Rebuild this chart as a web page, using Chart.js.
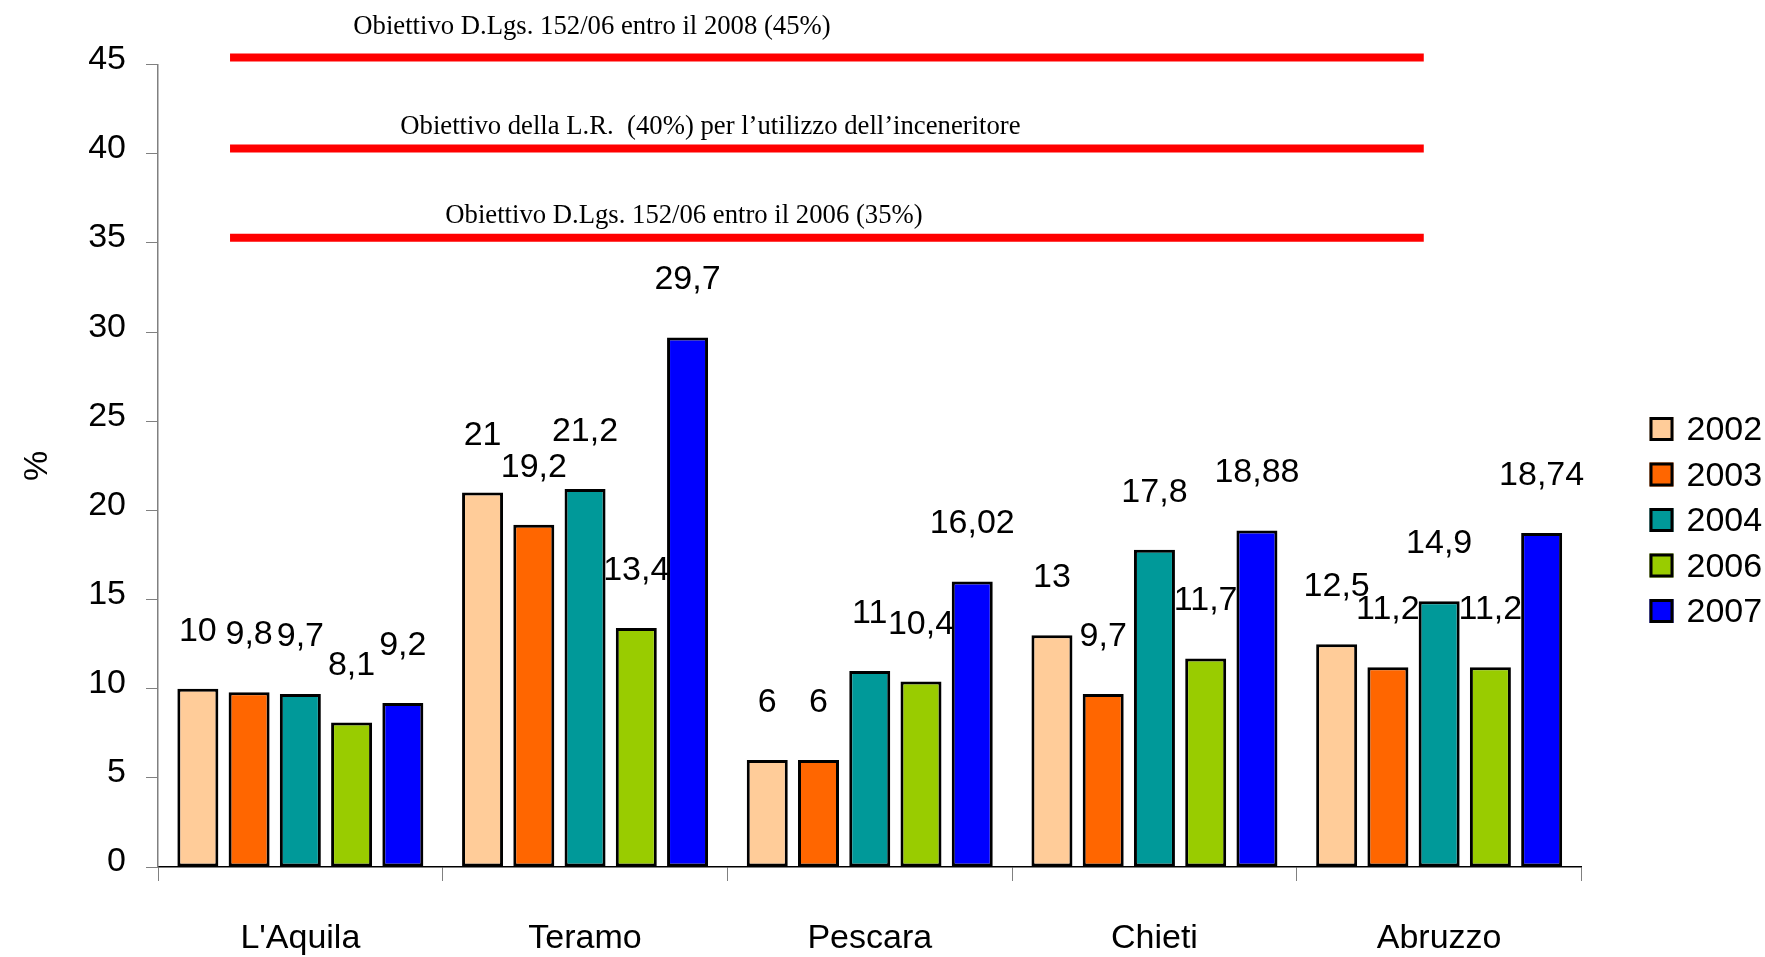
<!DOCTYPE html>
<html lang="it">
<head>
    <meta charset="UTF-8" />
    <title>Raccolta differenziata</title>
    <script src="https://cdn.jsdelivr.net/npm/chart.js"></script>
    <style>
        body { margin: 0; background: #fff; }
        #wrap { width: 1765px; height: 957px; }
    </style>
</head>
<body>
    <div id="wrap">
        <canvas id="chart" width="1765" height="957"></canvas>
    </div>
    <script>
        // data
        const provinces = ["L'Aquila", 'Teramo', 'Pescara', 'Chieti', 'Abruzzo'];
        const years = ['2002', '2003', '2004', '2006', '2007'];
        const values2002 = [10, 21, 6, 13, 12.5];
        const values2003 = [9.8, 19.2, 6, 9.7, 11.2];
        const values2004 = [9.7, 21.2, 11, 17.8, 14.9];
        const values2006 = [8.1, 13.4, 10.4, 11.7, 11.2];
        const values2007 = [9.2, 29.7, 16.02, 18.88, 18.74];
        const yTicks = [0, 5, 10, 15, 20, 25, 30, 35, 40, 45];

        // target lines (as drawn in the picture, slightly above the round value)
        const targetLevels = [45.4, 40.3, 35.3];
        const targetNotes = [
            'Obiettivo D.Lgs. 152/06 entro il 2008 (45%)',
            'Obiettivo della L.R.  (40%) per l\u2019utilizzo dell\u2019inceneritore',
            'Obiettivo D.Lgs. 152/06 entro il 2006 (35%)'
        ];

        const colors = ['#FFCC99', '#FF6600', '#009999', '#99CC00', '#0000FF'];
        const series = [values2002, values2003, values2004, values2006, values2007];

        const SANS = "'Liberation Sans', Arial, sans-serif";
        const SERIF = "'Liberation Serif', 'Times New Roman', serif";

        // where the lines and notes sit, in category units / value units
        const noteLayout = {
            lineFrom: -0.247, lineTo: 3.946,
            textX: [0.186, 0.351, 0.509],
            textY: [46.71, 41.14, 36.1]
        };

        const fmt = v => String(v).replace('.', ',');

        const targetsPlugin = {
            id: 'targets',
            afterDatasetsDraw(chart) {
                const { ctx, scales: { x, y } } = chart;
                ctx.save();
                ctx.strokeStyle = '#FF0000';
                ctx.lineWidth = 8;
                targetLevels.forEach(level => {
                    const py = y.getPixelForValue(level);
                    ctx.beginPath();
                    ctx.moveTo(x.getPixelForValue(noteLayout.lineFrom), py);
                    ctx.lineTo(x.getPixelForValue(noteLayout.lineTo), py);
                    ctx.stroke();
                });
                ctx.fillStyle = '#000';
                ctx.font = '26.7px ' + SERIF;
                ctx.textAlign = 'left';
                ctx.textBaseline = 'alphabetic';
                targetNotes.forEach((note, i) => {
                    ctx.fillText(note, x.getPixelForValue(noteLayout.textX[i]), y.getPixelForValue(noteLayout.textY[i]));
                });
                ctx.restore();
            }
        };

        const valueLabels = {
            id: 'valueLabels',
            afterDatasetsDraw(chart) {
                const ctx = chart.ctx;
                ctx.save();
                ctx.fillStyle = '#000';
                ctx.font = '34px ' + SANS;
                ctx.textAlign = 'center';
                ctx.textBaseline = 'alphabetic';
                chart.data.datasets.forEach((ds, di) => {
                    chart.getDatasetMeta(di).data.forEach((bar, i) => {
                        ctx.fillText(fmt(ds.data[i]), bar.x, bar.y - 48);
                    });
                });
                ctx.restore();
            }
        };

        // legend on the right, drawn by hand to match the picture
        const sideLegend = {
            id: 'sideLegend',
            afterDraw(chart) {
                const ctx = chart.ctx;
                const left = chart.chartArea.right + 68;
                const top = 429;
                ctx.save();
                ctx.font = '34px ' + SANS;
                ctx.textBaseline = 'middle';
                ctx.textAlign = 'left';
                chart.data.datasets.forEach((ds, i) => {
                    const cy = top + i * 45.5;
                    ctx.fillStyle = ds.backgroundColor;
                    ctx.fillRect(left, cy - 12, 24, 24);
                    ctx.lineWidth = 3;
                    ctx.strokeStyle = '#000';
                    ctx.strokeRect(left + 1.5, cy - 10.5, 21, 21);
                    ctx.fillStyle = '#000';
                    ctx.fillText(ds.label, left + 37, cy + 2);
                });
                ctx.restore();
            }
        };

        new Chart(document.getElementById('chart'), {
            type: 'bar',
            data: {
                labels: provinces,
                datasets: series.map((vals, i) => ({
                    label: years[i],
                    data: vals,
                    backgroundColor: colors[i],
                    borderColor: '#000',
                    borderWidth: 3,
                    borderSkipped: false,
                    categoryPercentage: 0.9,
                    barPercentage: 0.8
                }))
            },
            options: {
                responsive: false,
                animation: false,
                events: [],
                layout: { padding: { top: 64.7, right: 183.5, left: 0, bottom: 0 } },
                plugins: {
                    legend: { display: false },
                    tooltip: { enabled: false }
                },
                scales: {
                    x: {
                        afterFit: s => { s.height = 90; },
                        grid: { drawOnChartArea: false, tickLength: 14, color: '#808080', offset: true },
                        border: { color: '#000', width: 1.5 },
                        ticks: { color: '#000', font: { family: SANS, size: 34 }, padding: 37, maxRotation: 0 }
                    },
                    y: {
                        min: 0,
                        max: 45,
                        afterFit: s => { s.width = 158; },
                        afterBuildTicks: s => { s.ticks = yTicks.map(v => ({ value: v })); },
                        grid: { drawOnChartArea: false, tickLength: 12, color: '#808080' },
                        border: { color: '#808080', width: 1.5 },
                        ticks: { color: '#000', font: { family: SANS, size: 34 }, padding: 20, labelOffset: -5 },
                        title: {
                            display: true,
                            text: '%',
                            color: '#000',
                            font: { family: SANS, size: 34 },
                            padding: { top: 17, bottom: 0 }
                        }
                    }
                }
            },
            plugins: [targetsPlugin, valueLabels, sideLegend]
        });
    </script>
</body>
</html>
